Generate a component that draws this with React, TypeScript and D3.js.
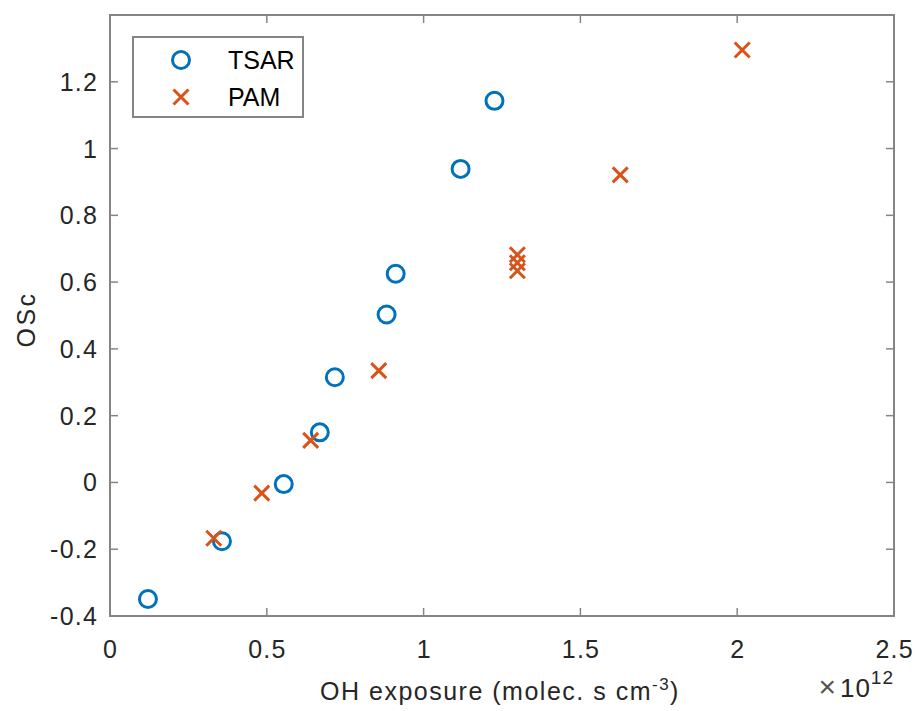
import React, { useEffect, useRef } from 'react';
import * as d3 from 'd3';

// OH exposure in units of 1e12 molec. s cm^-3
const tsarX = [0.121, 0.357, 0.554, 0.669, 0.717, 0.882, 0.911, 1.118, 1.226];
const tsarY = [-0.349, -0.176, -0.005, 0.15, 0.315, 0.503, 0.625, 0.939, 1.143];
const pamX = [0.331, 0.484, 0.64, 0.857, 1.299, 1.299, 1.299, 1.627, 2.016];
const pamY = [-0.167, -0.032, 0.126, 0.335, 0.682, 0.658, 0.634, 0.921, 1.295];
const xTicks = [0, 0.5, 1, 1.5, 2, 2.5];
const yTicks = [-0.4, -0.2, 0, 0.2, 0.4, 0.6, 0.8, 1, 1.2];

const BLUE = '#0072BD';
const ORANGE = '#D95319';
const FONT = 'Liberation Sans, Arial, Helvetica, sans-serif';

const App = () => {
  const svgRef = useRef<SVGSVGElement>(null);
  const width = 916;
  const height = 711;

  useEffect(() => {
    document.body.style.margin = '0';
    document.body.style.overflow = 'hidden';

    const svg = d3.select(svgRef.current);
    svg.selectAll('*').remove();

    const left = 110, right = 894, top = 15, bottom = 616;
    const x = d3.scaleLinear().domain([0, 2.5]).range([left, right]);
    const y = d3.scaleLinear().domain([-0.4, 1.4]).range([bottom, top]);
    const tickLen = 8;
    const axisColor = '#858585';
    const textColor = '#262626';

    svg.append('rect').attr('width', width).attr('height', height).attr('fill', '#fff');

    // ticks (inward, on all four sides)
    const ticks = svg.append('g').attr('stroke', axisColor).attr('stroke-width', 1.5);
    xTicks.forEach((t) => {
      ticks.append('line').attr('x1', x(t)).attr('x2', x(t)).attr('y1', bottom).attr('y2', bottom - tickLen);
      ticks.append('line').attr('x1', x(t)).attr('x2', x(t)).attr('y1', top).attr('y2', top + tickLen);
    });
    yTicks.forEach((t) => {
      ticks.append('line').attr('x1', left).attr('x2', left + tickLen).attr('y1', y(t)).attr('y2', y(t));
      ticks.append('line').attr('x1', right).attr('x2', right - tickLen).attr('y1', y(t)).attr('y2', y(t));
    });

    // box
    svg.append('rect')
      .attr('x', left).attr('y', top)
      .attr('width', right - left).attr('height', bottom - top)
      .attr('fill', 'none').attr('stroke', axisColor).attr('stroke-width', 2);

    // tick labels
    svg.append('g').selectAll('text')
      .data(xTicks).join('text')
      .attr('x', (d) => x(d) + 0.6).attr('y', 658)
      .attr('text-anchor', 'middle')
      .attr('font-family', FONT).attr('font-size', 25).attr('letter-spacing', 1.2).attr('fill', textColor)
      .text((d) => String(d));

    svg.append('g').selectAll('text')
      .data(yTicks).join('text')
      .attr('x', 98).attr('y', (d) => y(d) + 9)
      .attr('text-anchor', 'end')
      .attr('font-family', FONT).attr('font-size', 25).attr('letter-spacing', 1.2).attr('fill', textColor)
      .text((d) => (d < 0 ? '-' + String(-d) : String(d)));

    // x label
    const xl = svg.append('text')
      .attr('x', 500).attr('y', 700)
      .attr('text-anchor', 'middle')
      .attr('font-family', FONT).attr('font-size', 25).attr('letter-spacing', 1.5).attr('fill', textColor);
    xl.append('tspan').text('OH exposure (molec. s cm');
    xl.append('tspan').attr('dy', -10).attr('font-size', 17).text('-3');
    xl.append('tspan').attr('dy', 10).text(')');

    // exponent
    const ex = svg.append('text')
      .attr('x', 894).attr('y', 697)
      .attr('text-anchor', 'end')
      .attr('font-family', FONT).attr('font-size', 26).attr('letter-spacing', 1).attr('fill', textColor);
    ex.append('tspan').attr('font-size', 30).attr('fill', '#555').text('\u00d7');
    ex.append('tspan').attr('dx', 3).text('10');
    ex.append('tspan').attr('dy', -13).attr('font-size', 19).text('12');

    // y label
    svg.append('text')
      .attr('transform', `translate(35,${(top + bottom) / 2 + 4}) rotate(-90)`)
      .attr('text-anchor', 'middle')
      .attr('font-family', FONT).attr('font-size', 25).attr('letter-spacing', 2.5).attr('fill', textColor)
      .text('OSc');

    const drawCircle = (g: any, cx: number, cy: number) =>
      g.append('circle').attr('cx', cx).attr('cy', cy).attr('r', 8.5)
        .attr('fill', 'none').attr('stroke', BLUE).attr('stroke-width', 3);
    const drawCross = (g: any, cx: number, cy: number) => {
      const s = 7.5;
      g.append('path')
        .attr('d', `M${cx - s},${cy - s}L${cx + s},${cy + s}M${cx - s},${cy + s}L${cx + s},${cy - s}`)
        .attr('stroke', ORANGE).attr('stroke-width', 3).attr('fill', 'none');
    };

    const marks = svg.append('g');
    tsarX.forEach((v, i) => drawCircle(marks, x(v), y(tsarY[i])));
    pamX.forEach((v, i) => drawCross(marks, x(v), y(pamY[i])));

    // legend
    const lg = svg.append('g');
    lg.append('rect').attr('x', 133).attr('y', 37).attr('width', 170).attr('height', 80)
      .attr('fill', '#fff').attr('stroke', axisColor).attr('stroke-width', 2);
    drawCircle(lg, 181, 60);
    drawCross(lg, 181, 97);
    lg.append('text').attr('x', 228).attr('y', 69)
      .attr('font-family', FONT).attr('font-size', 25).attr('fill', '#000').text('TSAR');
    lg.append('text').attr('x', 228).attr('y', 106)
      .attr('font-family', FONT).attr('font-size', 25).attr('fill', '#000').text('PAM');
  }, []);

  return <svg ref={svgRef} width={width} height={height} style={{ display: 'block' }} />;
};

export default App;
